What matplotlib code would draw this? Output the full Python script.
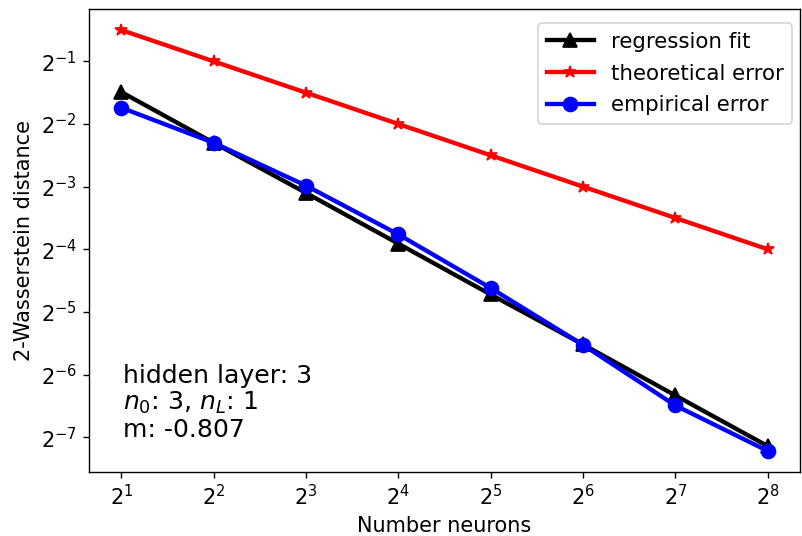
import matplotlib
matplotlib.use("Agg")
import matplotlib.pyplot as plt

# data (log2 scales)
neurons = [2, 4, 8, 16, 32, 64, 128, 256]
regression_fit = [0.3561, 0.2031, 0.1166, 0.0665, 0.0379, 0.0218, 0.0124, 0.00708]
theoretical_error = [0.7071, 0.5, 0.3536, 0.25, 0.1768, 0.125, 0.0884, 0.0625]
empirical_error = [0.2994, 0.2031, 0.1264, 0.0737, 0.0407, 0.0217, 0.0111, 0.00671]
info_lines = ["hidden layer: 3", "$n_0$: 3, $n_L$: 1", "m: -0.807"]

dpi = 125
fig = plt.figure(figsize=(802 / dpi, 536 / dpi), dpi=dpi)
ax = fig.add_axes([89 / 802, 64 / 536, 711 / 802, 463 / 536])

ax.plot(neurons, regression_fit, color='black', marker='^', linewidth=2.5, markersize=8,
        label='regression fit')
ax.plot(neurons, theoretical_error, color='red', marker='*', linewidth=2.5, markersize=7,
        label='theoretical error')
ax.plot(neurons, empirical_error, color='blue', marker='o', linewidth=2.5, markersize=8,
        label='empirical error')

ax.set_xscale('log', base=2)
ax.set_yscale('log', base=2)
ax.minorticks_off()

ax.set_xlabel('Number neurons', fontsize=12)
ax.set_ylabel('2-Wasserstein distance', fontsize=12)
ax.tick_params(labelsize=12)

ax.legend(loc='upper right', fontsize=12.3, bbox_to_anchor=(1.004, 0.992),
          labelspacing=0.55, handlelength=2.2)
ax.text(0.048, 0.065, "\n".join(info_lines), transform=ax.transAxes, fontsize=14.5,
        ha='left', va='bottom', linespacing=1.1)

fig.savefig('out.png', dpi=dpi)
